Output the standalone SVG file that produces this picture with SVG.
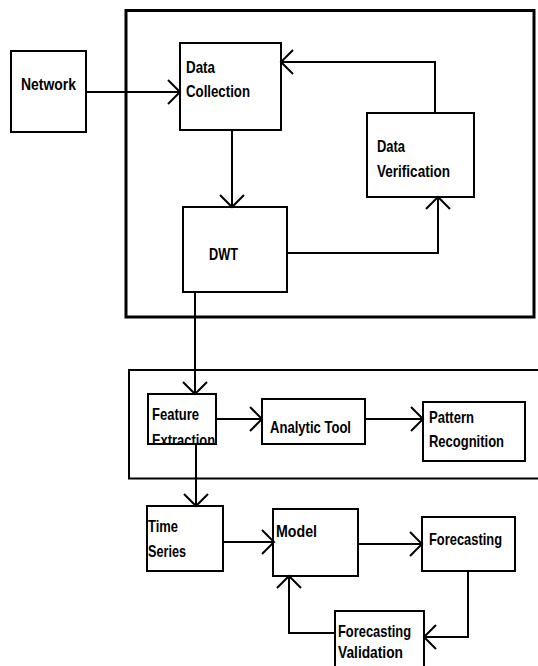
<svg xmlns="http://www.w3.org/2000/svg" width="538" height="666" viewBox="0 0 538 666">
<style>
.box{fill:#fff;stroke:#000;stroke-width:2}
.frame{fill:none;stroke:#000}
.t{font-family:"Liberation Sans",Arial,sans-serif;font-weight:bold;font-size:16.5px;fill:#000}
.c{fill:none;stroke:#000;stroke-width:2}
</style>
<defs>
<marker id="ah" markerUnits="userSpaceOnUse" viewBox="-14 -14 16 28" refX="0" refY="0" markerWidth="16" markerHeight="28" orient="auto" overflow="visible">
<path d="M-12,-12 L0,0 L-12,12" fill="none" stroke="#000" stroke-width="2"/>
</marker>
<clipPath id="feclip"><rect x="148" y="394" width="68" height="50"/></clipPath>
</defs>
<rect width="538" height="666" fill="#fff"/>
<g id="frames">
<rect class="frame" x="126" y="10.5" width="408" height="306.5" stroke-width="3"/>
<path class="frame" d="M545,370 H129 V478.5 H545" stroke-width="2"/>
</g>
<g id="n-network"><rect class="box" x="11" y="51" width="75" height="81"/><text class="t" x="21" y="90" textLength="55" lengthAdjust="spacingAndGlyphs">Network</text></g>
<g id="n-datacollection"><rect class="box" x="180" y="43" width="101" height="87"/><text class="t" x="186" y="73" textLength="29" lengthAdjust="spacingAndGlyphs">Data</text><text class="t" x="186" y="97" textLength="64" lengthAdjust="spacingAndGlyphs">Collection</text></g>
<g id="n-dataverification"><rect class="box" x="367" y="113" width="107" height="84"/><text class="t" x="377" y="152" textLength="28" lengthAdjust="spacingAndGlyphs">Data</text><text class="t" x="377" y="177" textLength="73" lengthAdjust="spacingAndGlyphs">Verification</text></g>
<g id="n-dwt"><rect class="box" x="183" y="207" width="104" height="85"/><text class="t" x="209" y="260" textLength="29" lengthAdjust="spacingAndGlyphs">DWT</text></g>
<g id="n-featureextraction"><rect class="box" x="148" y="394" width="68" height="50"/><g clip-path="url(#feclip)"><text class="t" x="152" y="420" textLength="47" lengthAdjust="spacingAndGlyphs">Feature</text><text class="t" x="152" y="446" textLength="63" lengthAdjust="spacingAndGlyphs">Extraction</text></g><rect x="148" y="394" width="68" height="50" fill="none" stroke="#000" stroke-width="2"/></g>
<g id="n-analytictool"><rect class="box" x="262" y="399" width="103" height="45"/><text class="t" x="270" y="433" textLength="81" lengthAdjust="spacingAndGlyphs">Analytic Tool</text></g>
<g id="n-patternrecognition"><rect class="box" x="423" y="402" width="102" height="59"/><text class="t" x="429" y="423" textLength="45" lengthAdjust="spacingAndGlyphs">Pattern</text><text class="t" x="429" y="447" textLength="75" lengthAdjust="spacingAndGlyphs">Recognition</text></g>
<g id="n-timeseries"><rect class="box" x="147" y="506" width="76" height="65"/><text class="t" x="148" y="532" textLength="30" lengthAdjust="spacingAndGlyphs">Time</text><text class="t" x="148" y="557" textLength="38" lengthAdjust="spacingAndGlyphs">Series</text></g>
<g id="n-model"><rect class="box" x="273" y="509" width="85" height="67"/><text class="t" x="276" y="537" textLength="41" lengthAdjust="spacingAndGlyphs">Model</text></g>
<g id="n-forecasting"><rect class="box" x="422" y="517" width="93" height="54"/><text class="t" x="429" y="545" textLength="73" lengthAdjust="spacingAndGlyphs">Forecasting</text></g>
<g id="n-forecastingvalidation"><rect class="box" x="335" y="611" width="89" height="60"/><text class="t" x="338" y="637" textLength="73" lengthAdjust="spacingAndGlyphs">Forecasting</text><text class="t" x="338" y="658" textLength="65" lengthAdjust="spacingAndGlyphs">Validation</text></g>
<g id="connectors">
<path class="c" d="M86,92 H180" marker-end="url(#ah)"/>
<path class="c" d="M232,130 V207" marker-end="url(#ah)"/>
<path class="c" d="M287,253 H438 V197" marker-end="url(#ah)"/>
<path class="c" d="M435,113 V62 H281" marker-end="url(#ah)"/>
<path class="c" d="M195,292 V394" marker-end="url(#ah)"/>
<path class="c" d="M216,419 H262" marker-end="url(#ah)"/>
<path class="c" d="M365,419 H423" marker-end="url(#ah)"/>
<path class="c" d="M196,444 V506" marker-end="url(#ah)"/>
<path class="c" d="M223,542 H274" marker-end="url(#ah)"/>
<path class="c" d="M358,544 H422" marker-end="url(#ah)"/>
<path class="c" d="M468,571 V637 H424" marker-end="url(#ah)"/>
<path class="c" d="M335,633 H289 V576" marker-end="url(#ah)"/>
</g>
</svg>
